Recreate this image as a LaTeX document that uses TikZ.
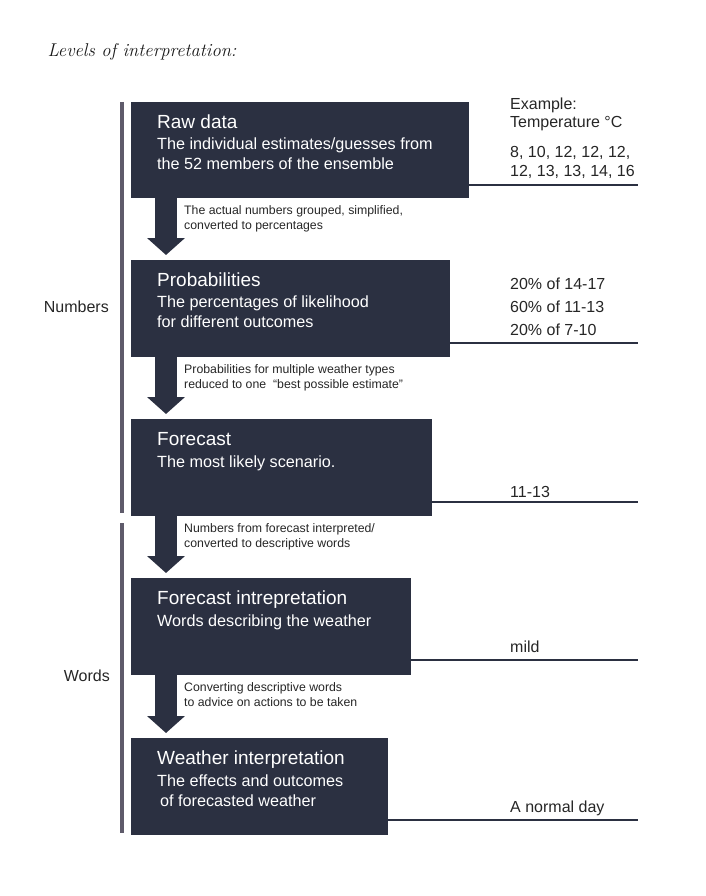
\documentclass[tikz,border=0pt]{standalone}
\usepackage{fontspec}
\setsansfont{Liberation Sans}
\usetikzlibrary{arrows.meta}
\definecolor{boxNavy}{HTML}{2b3041}
\definecolor{barGray}{HTML}{5f5b6b}

\begin{document}
\begin{tikzpicture}[x=1pt, y=-1pt, boxNavy]

  \tikzstyle{Box}=[rectangle, fill=boxNavy, anchor=north west, inner sep=0pt]
  \tikzstyle{T}=[anchor=north west, inner sep=0pt, text=white, font=\sffamily\fontsize{19}{22}\selectfont]
  \tikzstyle{S}=[anchor=north west, inner sep=0pt, text=white, align=left, font=\sffamily\fontsize{16.2}{20}\selectfont]
  \tikzstyle{A}=[anchor=north west, inner sep=0pt, text=black!85, align=left, font=\sffamily\fontsize{12.3}{15.5}\selectfont]
  \tikzstyle{R}=[anchor=base west, inner sep=0pt, text=black!85, font=\sffamily\fontsize{16}{20}\selectfont]
  \tikzstyle{L}=[anchor=east, inner sep=0pt, text=black!85, font=\sffamily\fontsize{16}{20}\selectfont]
  \tikzstyle{Down}=[line width=22pt, shorten >=5pt, -{Triangle[width=37pt, length=17pt]}]
  \tikzstyle{Rule}=[line width=1.8pt]
  \tikzstyle{Bar}=[line width=4pt, barGray]

  \useasboundingbox (0,0) rectangle (705,896);

  \node[anchor=west, text=black!90, font=\itshape\fontsize{18.5}{20}\selectfont] at (44,52) (title) {Levels of interpretation:};

  % the five levels
  \node[Box, minimum width=338, minimum height=96] at (131,102) (rawbox) {};
  \node[Box, minimum width=319, minimum height=97] at (131,260) (probbox) {};
  \node[Box, minimum width=301, minimum height=97] at (131,419) (fcbox) {};
  \node[Box, minimum width=280, minimum height=97] at (131,578) (fibox) {};
  \node[Box, minimum width=257, minimum height=97] at (131,738) (wibox) {};

  \node[T] at (157,115) (rawtitle) {Raw data};
  \node[S] at (157,138) (rawtext) {The individual estimates/guesses from\\the 52 members of the ensemble};
  \node[T] at (157,273) (probtitle) {Probabilities};
  \node[S] at (157,296) (probtext) {The percentages of likelihood\\for different outcomes};
  \node[T] at (157,432) (fctitle) {Forecast};
  \node[S] at (157,456) (fctext) {The most likely scenario.};
  \node[T] at (157,591) (fititle) {Forecast intrepretation};
  \node[S] at (157,615) (fitext) {Words describing the weather};
  \node[T] at (157,751) (wititle) {Weather interpretation};
  \node[S] at (157,775) (witext) {The effects and outcomes\\\hspace{3pt}of forecasted weather};

  % arrows between levels
  \draw[Down] ([xshift=35pt]rawbox.south west) to ([xshift=35pt]probbox.north west);
  \draw[Down] ([xshift=35pt]probbox.south west) to ([xshift=35pt]fcbox.north west);
  \draw[Down] ([xshift=35pt]fcbox.south west) to ([xshift=35pt]fibox.north west);
  \draw[Down] ([xshift=35pt]fibox.south west) to ([xshift=35pt]wibox.north west);

  \node[A] at (184,205) (rawarrow) {The actual numbers grouped, simplified,\\converted to percentages};
  \node[A] at (184,364) (probarrow) {Probabilities for multiple weather types\\reduced to one \ ``best possible estimate''};
  \node[A] at (184,523) (fcarrow) {Numbers from forecast interpreted/\\converted to descriptive words};
  \node[A] at (184,682) (fiarrow) {Converting descriptive words\\to advice on actions to be taken};

  % example column
  \coordinate (rawend) at (638,185);
  \coordinate (probend) at (638,343);
  \coordinate (fcend) at (638,502);
  \coordinate (fiend) at (638,660);
  \coordinate (wiend) at (638,820);

  \draw[Rule] (rawend -| rawbox.east) to (rawend);
  \draw[Rule] (probend -| probbox.east) to (probend);
  \draw[Rule] (fcend -| fcbox.east) to (fcend);
  \draw[Rule] (fiend -| fibox.east) to (fiend);
  \draw[Rule] (wiend -| wibox.east) to (wiend);

  \node[R] at (510,110) (exhead) {Example:};
  \node[R] at (510,128) (exunit) {Temperature °C};
  \node[R] at (510,158) (rawval1) {8, 10, 12, 12, 12,};
  \node[R] at (510,177) (rawval2) {12, 13, 13, 14, 16};
  \node[R] at (510,289) (probval1) {20\% of 14-17};
  \node[R] at (510,312) (probval2) {60\% of 11-13};
  \node[R] at (510,335) (probval3) {20\% of 7-10};
  \node[R] at (510,497) (fcval) {11-13};
  \node[R] at (510,652) (fival) {mild};
  \node[R] at (510,812) (wival) {A normal day};

  % numbers / words brackets
  \coordinate (numtop) at (122,102);
  \coordinate (numbot) at (122,513);
  \coordinate (wordtop) at (122,523);
  \coordinate (wordbot) at (122,833);
  \draw[Bar] (numtop) to (numbot);
  \draw[Bar] (wordtop) to (wordbot);

  \node[L] at (109,307) (numbers) {Numbers};
  \node[L] at (110,676) (words) {Words};

\end{tikzpicture}
\end{document}
